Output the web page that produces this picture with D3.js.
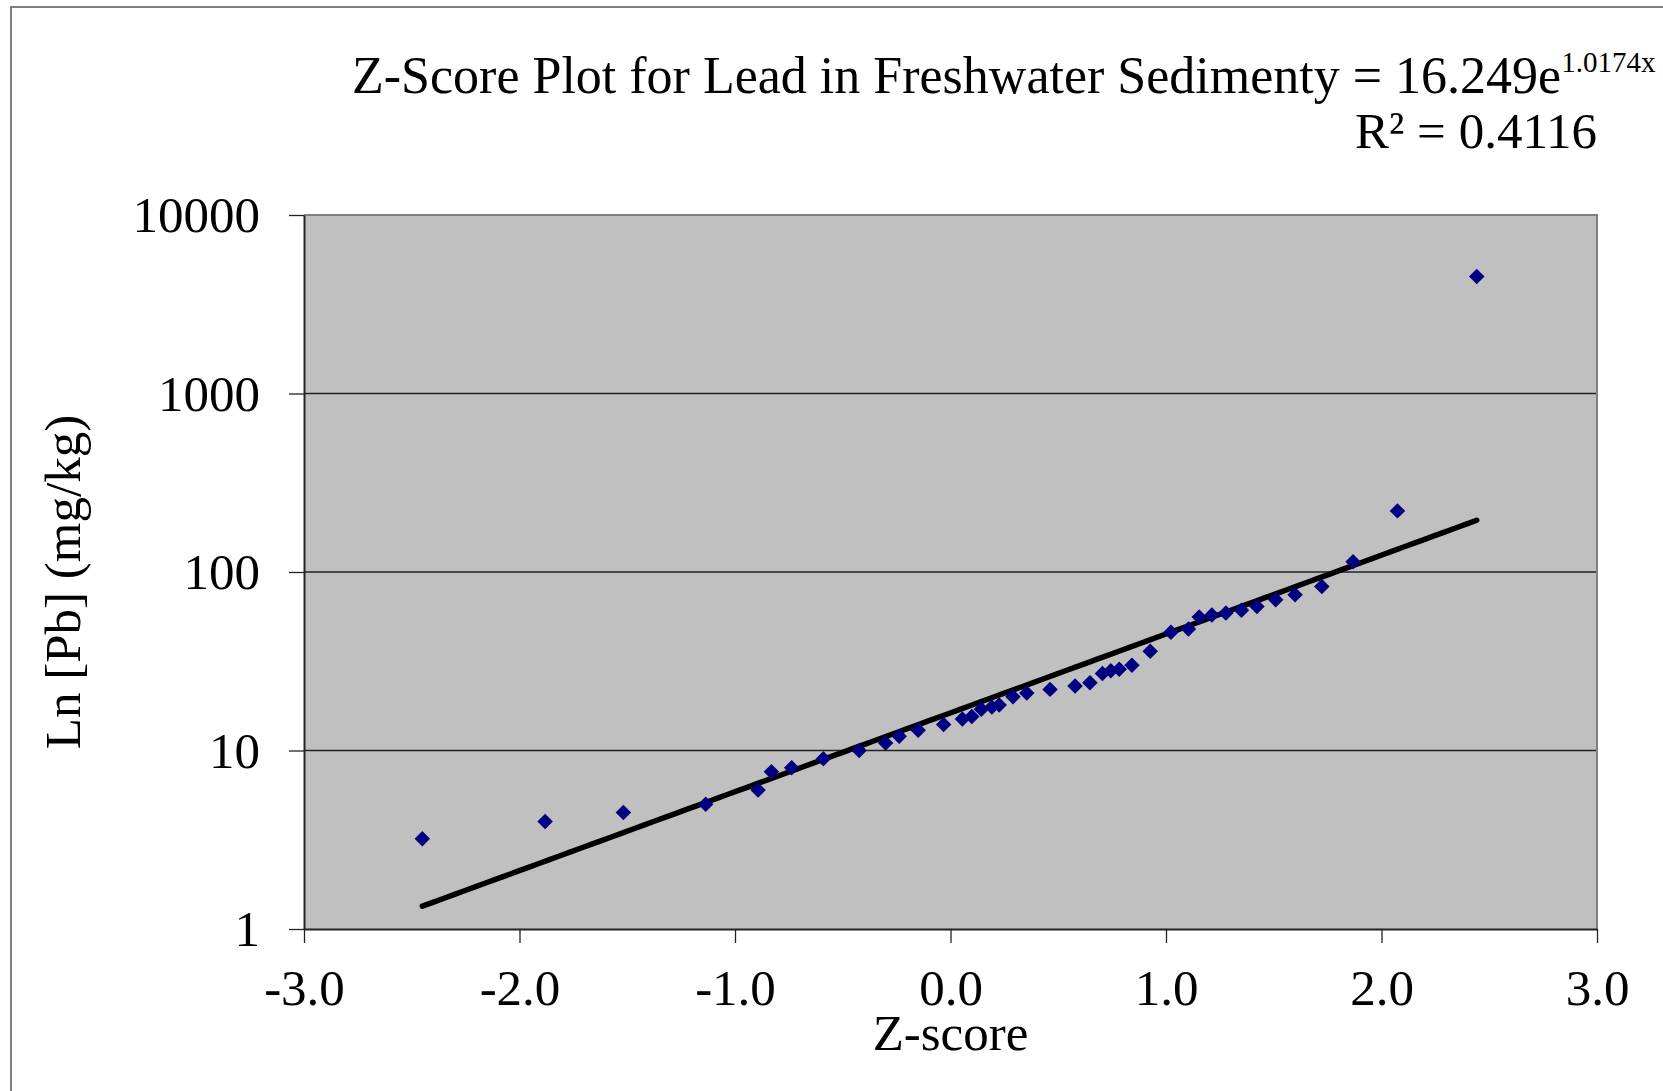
<!DOCTYPE html>
<html>
<head>
<meta charset="utf-8">
<script src="https://cdn.jsdelivr.net/npm/d3@7"></script>
<style>
  html, body { margin: 0; padding: 0; background: #fff; }
  svg { display: block; }
  text { font-family: "Liberation Serif", "Times New Roman", serif; fill: #000; }
</style>
</head>
<body>
<svg id="chart" width="1663" height="1091"></svg>
<script>
// ---- Data ----
const zScores = [-2.451, -1.881, -1.518, -1.136, -0.893, -0.831, -0.737, -0.590, -0.424,
  -0.301, -0.238, -0.150, -0.032, 0.055, 0.099, 0.143, 0.192, 0.226, 0.290, 0.354,
  0.462, 0.578, 0.647, 0.705, 0.744, 0.783, 0.842, 0.927, 1.023, 1.104, 1.154, 1.213,
  1.278, 1.350, 1.422, 1.509, 1.599, 1.723, 1.868, 2.074, 2.442];
const leadValues = [3.2, 4.0, 4.5, 5.0, 6.0, 7.6, 8.0, 9.0, 10.0,
  11.0, 12.0, 13.0, 14.0, 15.0, 15.5, 17.0, 17.5, 18.0, 20.0, 21.0,
  22.0, 23.0, 24.0, 27.0, 28.0, 28.5, 30.0, 36.0, 46.0, 48.0, 56.0, 57.5,
  59.0, 61.0, 64.0, 70.0, 74.5, 83.0, 114.0, 220.0, 4530.0];
const xTicks = [-3, -2, -1, 0, 1, 2, 3];
const xTickLabels = ["-3.0", "-2.0", "-1.0", "0.0", "1.0", "2.0", "3.0"];
const yTicks = [1, 10, 100, 1000, 10000];
const yTickLabels = ["1", "10", "100", "1000", "10000"];
const trendCoef = 16.249, trendExp = 1.0174;
const titleMain = "Z-Score Plot for Lead in Freshwater Sedimenty = 16.249e";
const titleSup = "1.0174x";
const titleLine2 = "R² = 0.4116";
const xLabel = "Z-score";
const yLabel = "Ln [Pb] (mg/kg)";

// ---- Layout ----
const svg = d3.select("#chart");
const plot = { left: 304, right: 1597, top: 215, bottom: 929 };

const x = d3.scaleLinear().domain([-3, 3]).range([plot.left, plot.right]);
const y = d3.scaleLog().domain([1, 10000]).range([plot.bottom, plot.top]);

// outer chart frame (only left/top visible)
svg.append("path")
  .attr("d", `M11,1091 L11,7 L1663,7`)
  .attr("fill", "none").attr("stroke", "#808080").attr("stroke-width", 2);

// plot background
svg.append("rect")
  .attr("x", plot.left).attr("y", plot.top)
  .attr("width", plot.right - plot.left).attr("height", plot.bottom - plot.top)
  .attr("fill", "#C0C0C0");

// gridlines
svg.append("g").selectAll("line").data(yTicks.filter(d => d > 1 && d < 10000)).join("line")
  .attr("x1", plot.left).attr("x2", plot.right)
  .attr("y1", d => y(d)).attr("y2", d => y(d))
  .attr("stroke", "#222").attr("stroke-width", 1.3);

// top and right border of plot
svg.append("path")
  .attr("d", `M${plot.left},${plot.top} L${plot.right},${plot.top} L${plot.right},${plot.bottom}`)
  .attr("fill", "none").attr("stroke", "#808080").attr("stroke-width", 2);

// axes
const xAxis = d3.axisBottom(x).tickValues(xTicks).tickSize(14).tickSizeOuter(0)
  .tickFormat((d, i) => xTickLabels[i]);
const gx = svg.append("g").attr("transform", `translate(0,${plot.bottom})`).call(xAxis);
gx.select(".domain").attr("stroke", "#222").attr("stroke-width", 2);
gx.selectAll(".tick line").attr("stroke", "#222").attr("stroke-width", 1.3);
gx.selectAll(".tick text")
  .attr("font-family", "Liberation Serif").attr("font-size", 51)
  .attr("y", 76).attr("dy", 0).attr("fill", "#000");

const yAxis = d3.axisLeft(y).tickValues(yTicks).tickSize(15).tickSizeOuter(0)
  .tickFormat((d, i) => yTickLabels[i]);
const gy = svg.append("g").attr("transform", `translate(${plot.left},0)`).call(yAxis);
gy.select(".domain").attr("stroke", "#222").attr("stroke-width", 2);
gy.selectAll(".tick line").attr("stroke", "#222").attr("stroke-width", 1.3);
gy.selectAll(".tick text")
  .attr("font-family", "Liberation Serif").attr("font-size", 51)
  .attr("x", -44).attr("dy", "0.33em").attr("fill", "#000");

// trendline (exponential fit across data range)
const zMin = d3.min(zScores), zMax = d3.max(zScores);
const trendPts = d3.range(0, 101).map(i => {
  const z = zMin + (zMax - zMin) * i / 100;
  return [z, trendCoef * Math.exp(trendExp * z)];
});
svg.append("path")
  .datum(trendPts)
  .attr("d", d3.line().x(d => x(d[0])).y(d => y(d[1])))
  .attr("fill", "none").attr("stroke", "#000").attr("stroke-width", 5.5)
  .attr("stroke-linecap", "round");

// data points (diamonds)
const diamond = d3.symbol().type(d3.symbolSquare).size(120)();
svg.append("g").selectAll("path").data(zScores.map((z, i) => [z, leadValues[i]])).join("path")
  .attr("d", diamond)
  .attr("transform", d => `translate(${x(d[0])},${y(d[1])}) rotate(45)`)
  .attr("fill", "#000080");

// title
const t1 = svg.append("text").attr("x", 352).attr("y", 93).attr("font-size", 52);
t1.append("tspan").text(titleMain);
t1.append("tspan").attr("font-size", 29).attr("dy", -21).text(titleSup);
svg.append("text").attr("x", plot.right).attr("y", 148).attr("text-anchor", "end")
  .attr("font-size", 51).text(titleLine2);

// axis labels
svg.append("text").attr("x", x(0)).attr("y", 1050).attr("text-anchor", "middle")
  .attr("font-size", 51).text(xLabel);
svg.append("text").attr("transform", `translate(80,${(plot.top + plot.bottom) / 2 + 10}) rotate(-90)`)
  .attr("text-anchor", "middle").attr("font-size", 51).text(yLabel);
</script>
</body>
</html>
